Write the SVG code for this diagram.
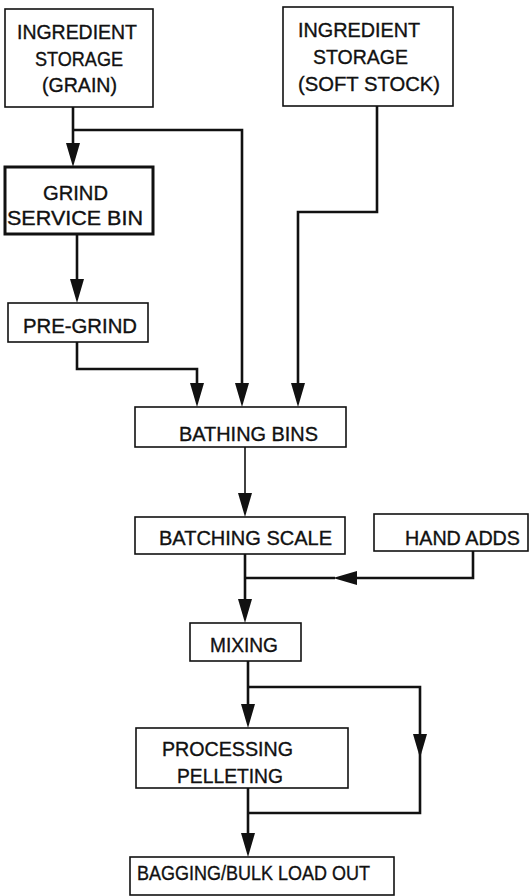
<svg xmlns="http://www.w3.org/2000/svg" width="529" height="896" viewBox="0 0 529 896">
<style>
  .box{fill:#fff;stroke:#111;stroke-width:1.6}
  .bold{stroke-width:3}
  .t{font-family:"Liberation Sans",Arial,sans-serif;font-size:20px;fill:#111;stroke:#111;stroke-width:0.35}
  .c{fill:none;stroke:#111;stroke-width:2.6}
  .thin{stroke-width:1.6}
</style>
<defs>
  <marker id="ah" viewBox="0 0 24 14" refX="10" refY="7" markerWidth="24" markerHeight="14" markerUnits="userSpaceOnUse" orient="auto">
    <path d="M0,0 L24,7 L0,14 z" fill="#111"/>
  </marker>
</defs>
<rect width="529" height="896" fill="#fff"/>
<g id="connectors">
  <path class="c" d="M73,107 V153" marker-end="url(#ah)"/>
  <path class="c" d="M73,130 H242 V393" marker-end="url(#ah)"/>
  <path class="c" d="M377,106 V212 H298 V393" marker-end="url(#ah)"/>
  <path class="c" d="M77,234 V289" marker-end="url(#ah)"/>
  <path class="c" d="M77,342 V369 H197 V393" marker-end="url(#ah)"/>
  <path class="c thin" d="M245,447 V503" marker-end="url(#ah)"/>
  <path class="c" d="M245,554 V609" marker-end="url(#ah)"/>
  <path class="c" d="M473,551 V578 H347" marker-end="url(#ah)"/>
  <path class="c" d="M335,578 H245"/>
  <path class="c" d="M248,661 V714" marker-end="url(#ah)"/>
  <path class="c" d="M248,687 H420 V744" marker-end="url(#ah)"/>
  <path class="c" d="M420,752 V813 H248"/>
  <path class="c" d="M248,788 V843" marker-end="url(#ah)"/>
</g>
<g id="storage-grain">
  <rect class="box" x="5" y="9" width="148" height="98"/>
  <text class="t" x="17" y="39" textLength="120" lengthAdjust="spacingAndGlyphs">INGREDIENT</text>
  <text class="t" x="35" y="66" textLength="88" lengthAdjust="spacingAndGlyphs">STORAGE</text>
  <text class="t" x="42" y="92" textLength="75" lengthAdjust="spacingAndGlyphs">(GRAIN)</text>
</g>
<g id="storage-soft">
  <rect class="box" x="283" y="7" width="170" height="99"/>
  <text class="t" x="298" y="37" textLength="122" lengthAdjust="spacingAndGlyphs">INGREDIENT</text>
  <text class="t" x="313" y="64" textLength="95" lengthAdjust="spacingAndGlyphs">STORAGE</text>
  <text class="t" x="298" y="91" textLength="142" lengthAdjust="spacingAndGlyphs">(SOFT STOCK)</text>
</g>
<g id="grind-bin">
  <rect class="box bold" x="5" y="167" width="148" height="67"/>
  <text class="t" x="43" y="200" textLength="65" lengthAdjust="spacingAndGlyphs">GRIND</text>
  <text class="t" x="7" y="225" textLength="136" lengthAdjust="spacingAndGlyphs">SERVICE BIN</text>
</g>
<g id="pre-grind">
  <rect class="box" x="8" y="303" width="140" height="39"/>
  <text class="t" x="23" y="333" textLength="114" lengthAdjust="spacingAndGlyphs">PRE-GRIND</text>
</g>
<g id="bathing-bins">
  <rect class="box" x="135" y="407" width="211" height="40"/>
  <text class="t" x="179" y="441" textLength="139" lengthAdjust="spacingAndGlyphs">BATHING BINS</text>
</g>
<g id="batching-scale">
  <rect class="box" x="135" y="517" width="210" height="37"/>
  <text class="t" x="159" y="545" textLength="173" lengthAdjust="spacingAndGlyphs">BATCHING SCALE</text>
</g>
<g id="hand-adds">
  <rect class="box" x="374" y="514" width="154" height="37"/>
  <text class="t" x="405" y="545" textLength="115" lengthAdjust="spacingAndGlyphs">HAND ADDS</text>
</g>
<g id="mixing">
  <rect class="box" x="190" y="623" width="111" height="38"/>
  <text class="t" x="210" y="652" textLength="68" lengthAdjust="spacingAndGlyphs">MIXING</text>
</g>
<g id="processing">
  <rect class="box" x="136" y="728" width="212" height="60"/>
  <text class="t" x="162" y="756" textLength="131" lengthAdjust="spacingAndGlyphs">PROCESSING</text>
  <text class="t" x="177" y="783" textLength="106" lengthAdjust="spacingAndGlyphs">PELLETING</text>
</g>
<g id="bagging">
  <rect class="box" x="130" y="857" width="264" height="38"/>
  <text class="t" x="137" y="880" textLength="233" lengthAdjust="spacingAndGlyphs">BAGGING/BULK LOAD OUT</text>
</g>
</svg>
